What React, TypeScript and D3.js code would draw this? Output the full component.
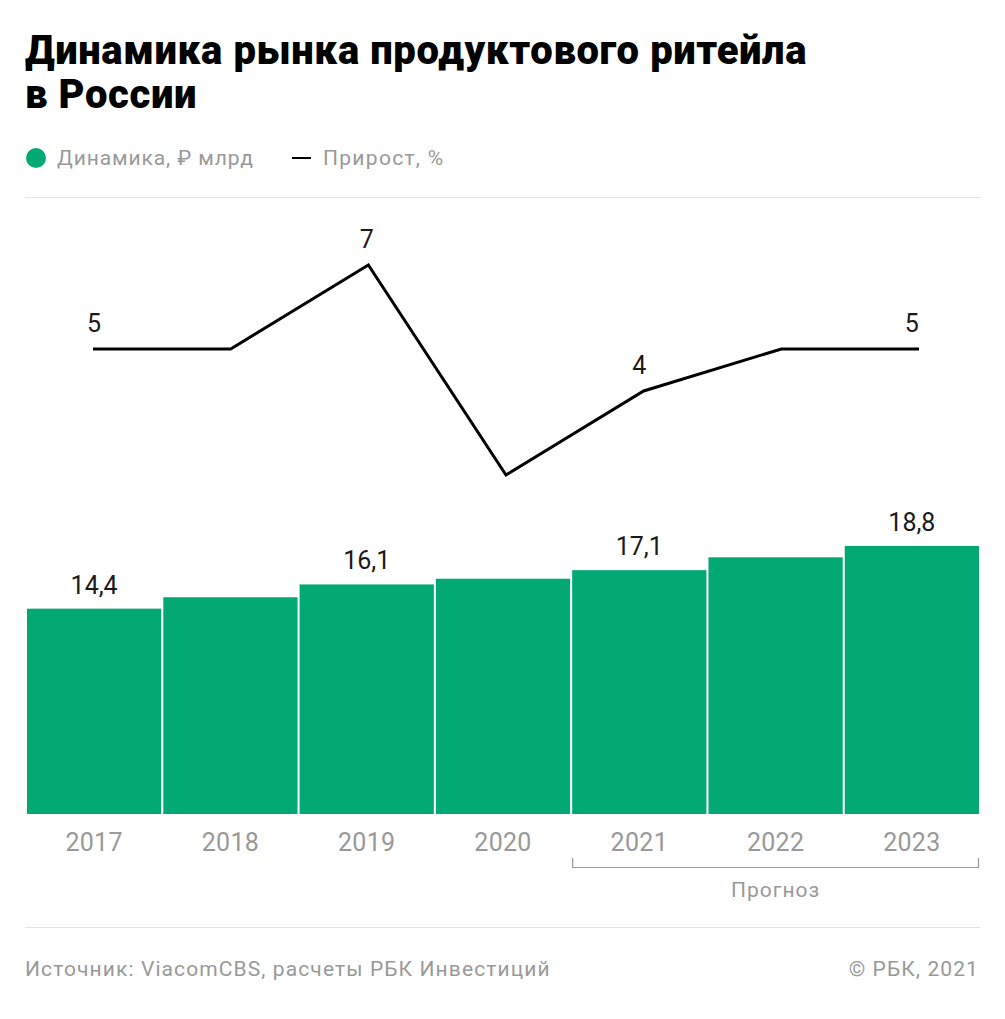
import React from "react";
import * as d3 from "d3";

const years = ["2017", "2018", "2019", "2020", "2021", "2022", "2023"];
const marketValues = [14.4, 15.2, 16.1, 16.5, 17.1, 18.0, 18.8];
const growthValues = [5, 5, 7, 2, 4, 5, 5];
const labeledYears = ["2017", "2019", "2021", "2023"];
const forecastYears = ["2021", "2022", "2023"];
const titleLines = ["Динамика рынка продуктового ритейла", "в России"];
const legendBar = "Динамика, ₽ млрд";
const legendLine = "Прирост, %";
const forecastLabel = "Прогноз";
const sourceText = "Источник: ViacomCBS, расчеты РБК Инвестиций";
const copyrightText = "© РБК, 2021";

const GREEN = "#02a972";
const GRAY = "#999999";
const FONT = "Roboto, 'Noto Sans', sans-serif";

const fmt = (v: number) => String(v).replace(".", ",");

export default function App() {
  const W = 1005;
  const H = 1019;

  const x = d3.scaleBand<string>().domain(years).range([27, 979]).paddingInner(0.015).paddingOuter(0);
  const xLine = d3.scalePoint<string>().domain(years).range([93, 919]);
  const yBar = d3.scaleLinear().domain([0, 20]).range([814, 814 - 20 * 14.26]);
  const yLine = d3.scaleLinear().domain([2, 7]).range([475, 265]);

  const line = d3
    .line<number>()
    .x((_, i) => xLine(years[i]) as number)
    .y((d) => yLine(d));

  const fStart = x(forecastYears[0]) as number;
  const fEnd = (x(forecastYears[forecastYears.length - 1]) as number) + x.bandwidth();

  return (
    <svg width={W} height={H} style={{ position: "absolute", left: 0, top: 0, background: "#fff" }} fontFamily={FONT}>
      <rect x={0} y={0} width={W} height={H} fill="#fff" />
      {titleLines.map((t, i) => (
        <text key={t} x={25} y={64 + i * 44} fontSize={40} fontWeight={900} fill="#000" letterSpacing={0.6}>
          {t}
        </text>
      ))}
      {/* legend */}
      <circle cx={36} cy={158} r={10} fill={GREEN} />
      <text x={57} y={165} fontSize={21} fill={GRAY} letterSpacing={0.9}>{legendBar}</text>
      <line x1={292} x2={311} y1={158} y2={158} stroke="#000" strokeWidth={2} />
      <text x={323} y={165} fontSize={21} fill={GRAY} letterSpacing={1.3}>{legendLine}</text>
      <line x1={25} x2={980} y1={197.5} y2={197.5} stroke="#e3e3e3" strokeWidth={1} />

      {/* bars */}
      {years.map((yr, i) => (
        <rect
          key={yr}
          x={x(yr) as number}
          y={yBar(marketValues[i])}
          width={x.bandwidth()}
          height={yBar(0) - yBar(marketValues[i])}
          fill={GREEN}
        />
      ))}
      {years.map((yr, i) =>
        labeledYears.includes(yr) ? (
          <text
            key={"bl" + yr}
            x={(x(yr) as number) + x.bandwidth() / 2}
            y={yBar(marketValues[i]) - 15}
            textAnchor="middle"
            fontSize={25}
            fill="#1a1a1a"
          >
            {fmt(marketValues[i])}
          </text>
        ) : null
      )}

      {/* line */}
      <path d={line(growthValues) as string} fill="none" stroke="#000" strokeWidth={3} strokeLinejoin="miter" />
      {years.map((yr, i) =>
        labeledYears.includes(yr) ? (
          <text
            key={"ll" + yr}
            x={(x(yr) as number) + x.bandwidth() / 2}
            y={yLine(growthValues[i]) - 17}
            textAnchor="middle"
            fontSize={25}
            fill="#1a1a1a"
          >
            {fmt(growthValues[i])}
          </text>
        ) : null
      )}

      {/* x axis labels */}
      {years.map((yr) => (
        <text
          key={"x" + yr}
          x={(x(yr) as number) + x.bandwidth() / 2}
          y={851}
          textAnchor="middle"
          fontSize={25}
          fill={GRAY}
          letterSpacing={0.3}
        >
          {yr}
        </text>
      ))}
      {/* forecast bracket */}
      <path
        d={`M${fStart + 0.5},858 V867.5 H${fEnd - 0.5} V858`}
        fill="none"
        stroke={GRAY}
        strokeWidth={1.2}
      />
      <text x={(fStart + fEnd) / 2} y={897} textAnchor="middle" fontSize={21} fill={GRAY} letterSpacing={1}>
        {forecastLabel}
      </text>

      {/* footer */}
      <line x1={25} x2={980} y1={927.5} y2={927.5} stroke="#e3e3e3" strokeWidth={1} />
      <text x={25} y={976} fontSize={21} fill={GRAY} letterSpacing={1.1}>{sourceText}</text>
      <text x={979} y={976} fontSize={21} fill={GRAY} textAnchor="end" letterSpacing={1.1}>{copyrightText}</text>
    </svg>
  );
}
